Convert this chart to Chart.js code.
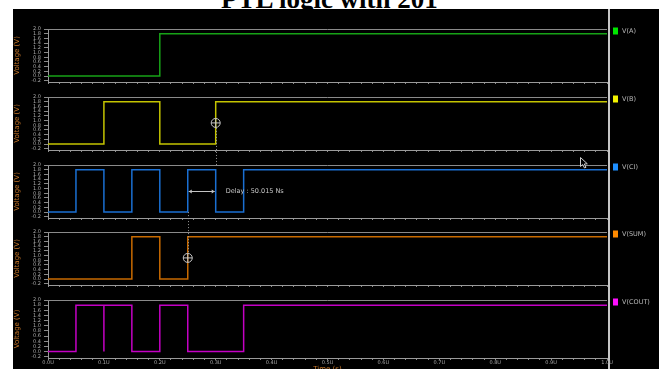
<!DOCTYPE html>
<html>
<head>
<meta charset="utf-8">
<script src="https://cdn.jsdelivr.net/npm/chart.js@4.4.0/dist/chart.umd.min.js"></script>
<style>
  html, body { margin: 0; padding: 0; width: 659px; height: 369px; overflow: hidden; background: #fff; }
  #title { position: absolute; left: 0; top: -16px; width: 659px; text-align: center; line-height: 27px;
           font: bold 27px "Liberation Serif", "Times New Roman", serif; color: #000; white-space: nowrap; }
  #scope { position: absolute; left: 13px; top: 9px; width: 646px; height: 370px; background: #000; }
  #sep { position: absolute; left: 608px; top: 9px; width: 2px; height: 370px; background: #c6c6c6; }
  canvas { position: absolute; }
</style>
</head>
<body>
<div id="title">PTL logic with 201</div>
<div id="scope"></div>
<div id="sep"></div>
<div id="charts"></div>
<canvas id="overlay" width="659" height="369" style="left:0;top:0;pointer-events:none"></canvas>
<script>
// Signal names and colours
const names = ['V(A)', 'V(B)', 'V(CI)', 'V(SUM)', 'V(COUT)'];
const lineColors = ['#17a317', '#c4c400', '#1a6fd2', '#c86a00', '#c400c4'];
const swatchColors = ['#00e600', '#f2f200', '#1e8fff', '#ff8a00', '#ff10ff'];

// Transition times (µs) and the level held from each time on (V)
const tA    = [0, 0.2, 1.0];
const vA    = [0, 1.8, 1.8];
const tB    = [0, 0.1, 0.2, 0.3, 1.0];
const vB    = [0, 1.8, 0, 1.8, 1.8];
const tCI   = [0, 0.05, 0.1, 0.15, 0.2, 0.25, 0.3, 0.35, 1.0];
const vCI   = [0, 1.8, 0, 1.8, 0, 1.8, 0, 1.8, 1.8];
const tSUM  = [0, 0.15, 0.2, 0.25, 1.0];
const vSUM  = [0, 1.8, 0, 1.8, 1.8];
const tCOUT = [0, 0.05, 0.1, 0.1, 0.15, 0.2, 0.25, 0.35, 1.0];
const vCOUT = [0, 1.8, 0, 1.8, 0, 1.8, 0, 1.8, 1.8];

// Axis ticks
const yTicks = [2.0, 1.8, 1.6, 1.4, 1.2, 1.0, 0.8, 0.6, 0.4, 0.2, 0.0, -0.2];
const xMajor = [0, 0.1, 0.2, 0.3, 0.4, 0.5, 0.6, 0.7, 0.8, 0.9, 1.0];
const xLabels = ['0.0U', '0.1U', '0.2U', '0.3U', '0.4U', '0.5U', '0.6U', '0.7U', '0.8U', '0.9U', '1.0U'];
const xMinorPerMajor = 5;

// Delay cursors (µs, V) and readout
const cursorB = { t: 0.3, v: 0.9 };
const cursorSUM = { t: 0.25, v: 0.9 };
const delayText = 'Delay : 50.015 Ns';

const series = [[tA, vA], [tB, vB], [tCI, vCI], [tSUM, vSUM], [tCOUT, vCOUT]];

// Panel layout on the page
const panelTop = [29, 97, 165, 232, 300];
const panelH = [55, 55, 55, 55, 58];
const PAD_TOP = 6;

// x tick positions: majors with evenly spaced minors between them
const xTickVals = [];
for (let i = 0; i < xMajor.length; i++) {
  xTickVals.push(xMajor[i]);
  if (i < xMajor.length - 1) {
    const step = (xMajor[i + 1] - xMajor[i]) / xMinorPerMajor;
    for (let k = 1; k < xMinorPerMajor; k++) xTickVals.push(+(xMajor[i] + step * k).toFixed(4));
  }
}

const panelDeco = {
  id: 'panelDeco',
  afterDraw(chart, args, opts) {
    const { ctx, chartArea: a } = chart;
    ctx.save();
    ctx.strokeStyle = '#8a8a8a';
    ctx.lineWidth = 1;
    ctx.beginPath();
    ctx.moveTo(a.left, a.top + 0.5);
    ctx.lineTo(a.right, a.top + 0.5);
    ctx.stroke();
    // legend entry
    const lx = a.right + 6, ly = a.top + 2;
    ctx.fillStyle = opts.swatch;
    ctx.fillRect(lx, ly - 3.5, 5, 7);
    ctx.fillStyle = '#b8b8b8';
    ctx.font = '6.5px "DejaVu Sans"';
    ctx.textBaseline = 'middle';
    ctx.textAlign = 'left';
    ctx.fillText(opts.name, lx + 9, ly);
    ctx.restore();
  }
};

const charts = [];
const holder = document.getElementById('charts');
series.forEach(([ts, vs], i) => {
  const last = i === series.length - 1;
  const xAxisH = last ? 17 : 4;
  const cv = document.createElement('canvas');
  const top = panelTop[i] - PAD_TOP;
  const h = PAD_TOP + panelH[i] + xAxisH;
  cv.width = 646; cv.height = h;
  cv.style.left = '13px'; cv.style.top = top + 'px';
  cv.style.width = '646px'; cv.style.height = h + 'px';
  holder.appendChild(cv);
  const pts = ts.map((t, k) => ({ x: t, y: vs[k] }));
  const chart = new Chart(cv, {
    type: 'line',
    data: {
      datasets: [{
        label: names[i], data: pts, stepped: true,
        borderColor: lineColors[i], borderWidth: 1.5, pointRadius: 0, fill: false
      }]
    },
    options: {
      responsive: false, animation: false, devicePixelRatio: 1,
      events: [],
      layout: { padding: { top: PAD_TOP, right: 52, left: 0, bottom: 0 } },
      plugins: {
        legend: { display: false }, tooltip: { enabled: false },
        panelDeco: { swatch: swatchColors[i], name: names[i] }
      },
      scales: {
        x: {
          type: 'linear', min: 0, max: 1.0,
          afterBuildTicks: s => { s.ticks = xTickVals.map(v => ({ value: v })); },
          afterFit: s => { s.height = xAxisH; },
          grid: { drawOnChartArea: false, drawTicks: true, tickLength: 2, color: '#8a8a8a' },
          border: { display: true, color: '#9a9a9a', width: 1 },
          ticks: {
            autoSkip: false, maxRotation: 0, padding: 0, color: '#a8a8a8',
            font: { family: 'DejaVu Sans', size: 5 },
            callback: v => {
              if (!last) return '';
              const idx = xMajor.findIndex(m => Math.abs(m - v) < 1e-6);
              return idx >= 0 ? xLabels[idx] : '';
            }
          },
          title: {
            display: last, text: 'Time (s)', color: '#c8782a',
            font: { family: 'DejaVu Sans', size: 7 }, padding: { top: 0, bottom: 2 }
          }
        },
        y: {
          min: -0.25, max: 2.0,
          afterBuildTicks: s => { s.ticks = yTicks.map(v => ({ value: v })); },
          afterFit: s => { s.width = 35; },
          grid: { drawOnChartArea: false, drawTicks: true, tickLength: 4, color: '#8a8a8a' },
          border: { display: true, color: '#9a9a9a', width: 1 },
          ticks: {
            autoSkip: false, padding: 3, color: '#a8a8a8',
            font: { family: 'DejaVu Sans', size: 5 },
            callback: v => v.toFixed(1)
          },
          title: {
            display: true, text: 'Voltage (V)', color: '#c8782a',
            font: { family: 'DejaVu Sans', size: 7 }, padding: { top: 0, bottom: 0 }
          }
        }
      }
    },
    plugins: [panelDeco]
  });
  chart._pageTop = top;
  chart._pageLeft = 13;
  charts.push(chart);
});

// Cursor markers, dotted guides and the delay readout
function px(chart, t) { return chart._pageLeft + chart.scales.x.getPixelForValue(t); }
function py(chart, v) { return chart._pageTop + chart.scales.y.getPixelForValue(v); }

const ov = document.getElementById('overlay').getContext('2d');
ov.strokeStyle = '#c4c4c4';
ov.fillStyle = '#c4c4c4';
ov.lineWidth = 1;

function crossCircle(x, y) {
  ov.beginPath(); ov.arc(x, y, 4.5, 0, Math.PI * 2); ov.stroke();
  ov.beginPath(); ov.moveTo(x - 4.5, y); ov.lineTo(x + 4.5, y);
  ov.moveTo(x, y - 4.5); ov.lineTo(x, y + 4.5); ov.stroke();
}
function dotted(x, y1, y2) {
  ov.save(); ov.setLineDash([1, 2]); ov.strokeStyle = '#9a9a9a';
  ov.beginPath(); ov.moveTo(Math.round(x) + 0.5, y1); ov.lineTo(Math.round(x) + 0.5, y2); ov.stroke();
  ov.restore();
}

const bChart = charts[1], ciChart = charts[2], sumChart = charts[3];
const xb = px(bChart, cursorB.t), yb = py(bChart, cursorB.v);
const xs = px(sumChart, cursorSUM.t), ys = py(sumChart, cursorSUM.v);
dotted(xb, yb + 5, ciChart._pageTop + ciChart.chartArea.top);
dotted(xs, py(ciChart, 0), ys - 5);
crossCircle(xb, yb);
crossCircle(xs, ys);

// double-headed delay arrow in the carry-in panel
const ya = Math.round(py(ciChart, cursorB.v)) + 0.5;
const xa1 = px(ciChart, cursorSUM.t) + 1, xa2 = px(ciChart, cursorB.t) - 1;
ov.beginPath(); ov.moveTo(xa1, ya); ov.lineTo(xa2, ya); ov.stroke();
ov.beginPath();
ov.moveTo(xa1, ya); ov.lineTo(xa1 + 3, ya - 2); ov.lineTo(xa1 + 3, ya + 2); ov.closePath();
ov.moveTo(xa2, ya); ov.lineTo(xa2 - 3, ya - 2); ov.lineTo(xa2 - 3, ya + 2); ov.closePath();
ov.fill();
ov.font = '6.5px "DejaVu Sans"';
ov.textBaseline = 'middle';
ov.fillStyle = '#c8c8c8';
ov.fillText(delayText, px(ciChart, cursorB.t) + 10, ya);

// mouse pointer left on the scope
(function pointer(x, y) {
  ov.save();
  ov.strokeStyle = '#d0d0d0'; ov.fillStyle = '#000';
  ov.beginPath();
  ov.moveTo(x, y); ov.lineTo(x, y + 9); ov.lineTo(x + 2.2, y + 7);
  ov.lineTo(x + 4, y + 10.5); ov.lineTo(x + 5.5, y + 9.8); ov.lineTo(x + 3.8, y + 6.5);
  ov.lineTo(x + 6.8, y + 6.3); ov.closePath();
  ov.fill(); ov.stroke();
  ov.restore();
})(580.5, 157.5);
</script>
</body>
</html>
